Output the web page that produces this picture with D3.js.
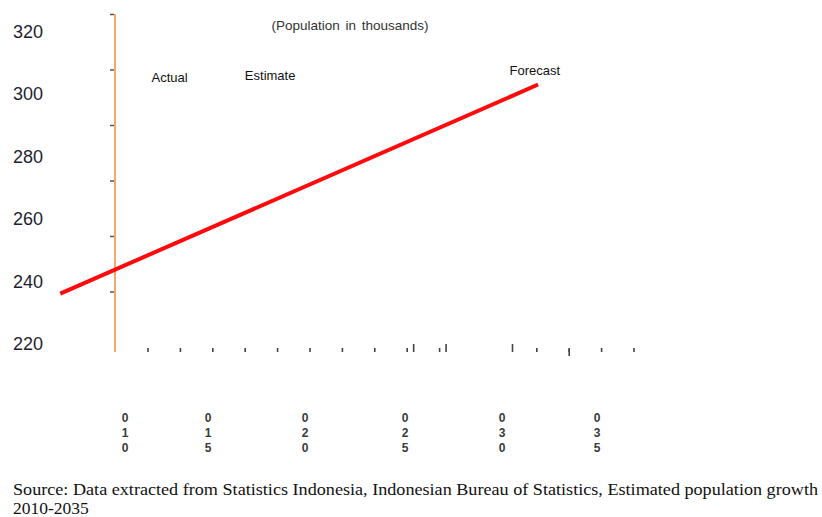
<!DOCTYPE html>
<html>
<head>
<meta charset="utf-8">
<script src="https://cdn.jsdelivr.net/npm/d3@7"></script>
<style>
  html, body { margin: 0; padding: 0; background: #fff; }
  svg { display: block; }
</style>
</head>
<body>
<div id="chart"></div>
<script>
// Population of Indonesia (thousands), estimate and forecast
const yTickValues = [220, 240, 260, 280, 300, 320];
const yearTicks = [2010, 2015, 2020, 2025, 2030, 2035];
const yearTickLabels = ["010", "015", "020", "025", "030", "035"];
const popYears = [2006.1, 2031.9];
const popValues = [236, 303];
const phaseLabels = ["Actual", "Estimate", "Forecast"];
const phaseYears = [2011.6, 2016.9, 2030.4];
const phaseValues = [303.8, 304.5, 306.1];
const minorTicks = [0, 1, 2, 3, 4, 5, 6, 7, 8, 9, 12, 13, 14, 15];
const tallTicks = [8.2, 9.2, 11.25];
const lowTicks = [13];
const leftTicks = [0, 1, 2, 3, 4, 5];
const title = "(Population in thousands)";
const sourceLines = [
  "Source: Data extracted from Statistics Indonesia, Indonesian Bureau of Statistics, Estimated population growth",
  "2010-2035"
];

const W = 822, H = 517;
const svg = d3.select("#chart").append("svg")
  .attr("width", W).attr("height", H)
  .style("font-family", "'Liberation Sans', Arial, sans-serif");

const y = d3.scaleLinear().domain([220, 320]).range([343.5, 31.5]);
const x = d3.scaleLinear().domain(yearTicks).range([125, 208, 305, 405, 502, 597]);
const tickX = d3.scaleLinear().domain([0, 15]).range([148, 634]);
const tickY = d3.scaleLinear().domain([0, 5]).range([14.5, 292]);

// y value labels
svg.append("g").selectAll("text").data(yTickValues).join("text")
  .attr("x", 13).attr("y", d => y(d) + 6.5)
  .attr("font-size", 18).attr("fill", "#1e1e30")
  .text(d => d);

// vertical axis line with small ticks
const axisX = 115;
svg.append("line")
  .attr("x1", axisX).attr("x2", axisX).attr("y1", 14).attr("y2", 352)
  .attr("stroke", "#f8a862").attr("stroke-width", 2);
svg.append("g").selectAll("line").data(leftTicks).join("line")
  .attr("x1", axisX - 5).attr("x2", axisX - 1)
  .attr("y1", d => tickY(d)).attr("y2", d => tickY(d))
  .attr("stroke", "#555").attr("stroke-width", 1.5);

// bottom tick marks
const tg = svg.append("g").attr("stroke", "#444").attr("stroke-width", 1.6);
tg.selectAll("line.minor").data(minorTicks).join("line").attr("class", "minor")
  .attr("x1", d => tickX(d)).attr("x2", d => tickX(d))
  .attr("y1", 348).attr("y2", 352);
tg.selectAll("line.tall").data(tallTicks).join("line").attr("class", "tall")
  .attr("x1", d => tickX(d)).attr("x2", d => tickX(d))
  .attr("y1", 344).attr("y2", 352);
tg.selectAll("line.low").data(lowTicks).join("line").attr("class", "low")
  .attr("x1", d => tickX(d)).attr("x2", d => tickX(d))
  .attr("y1", 349).attr("y2", 356);

// year labels written one character per line
const yl = svg.append("g").selectAll("g").data(yearTicks).join("g");
yl.each(function (d, i) {
  const chars = yearTickLabels[i].split("");
  d3.select(this).selectAll("text").data(chars).join("text")
    .attr("x", x(d)).attr("y", (c, j) => 421.5 + j * 15)
    .attr("text-anchor", "middle")
    .attr("font-size", 12).attr("font-weight", "bold").attr("fill", "#3a3a3a")
    .text(c => c);
});

// population line
const line = d3.line().x(d => x(d[0])).y(d => y(d[1]));
svg.append("path")
  .datum(popYears.map((yr, i) => [yr, popValues[i]]))
  .attr("d", line)
  .attr("fill", "none").attr("stroke", "#ff0a0a").attr("stroke-width", 4);

// title
svg.append("text")
  .attr("x", 350).attr("y", 30).attr("text-anchor", "middle")
  .attr("font-size", 13.5).attr("fill", "#333").style("word-spacing", "2px")
  .text(title);

// phase labels
svg.append("g").selectAll("text").data(phaseLabels).join("text")
  .attr("x", (d, i) => x(phaseYears[i]))
  .attr("y", (d, i) => y(phaseValues[i]))
  .attr("font-size", 13).attr("fill", "#111")
  .text(d => d);

// source note
svg.append("g").selectAll("text").data(sourceLines).join("text")
  .attr("x", 13).attr("y", (d, i) => 495 + i * 19)
  .attr("font-family", "'Liberation Serif', 'Times New Roman', serif")
  .attr("font-size", 17.5).attr("fill", "#111")
  .attr("textLength", (d, i) => i === 0 ? 805 : null)
  .attr("lengthAdjust", "spacingAndGlyphs")
  .text(d => d);
</script>
</body>
</html>
